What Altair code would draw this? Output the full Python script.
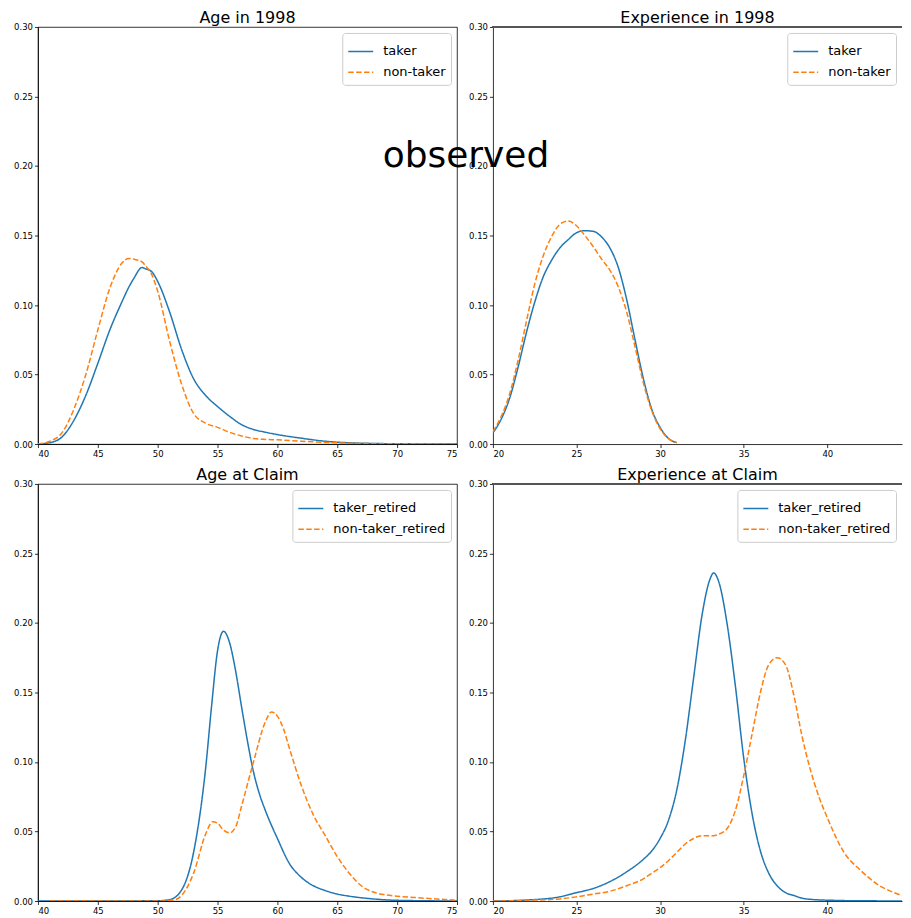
import altair as alt
import pandas as pd

# ---- Age in 1998 ----
age98_x = [40, 41, 42, 43, 44, 45, 46, 47, 47.6, 48, 48.7, 49, 49.5, 50, 51, 52, 53, 54, 55, 56, 57, 58, 59, 60, 62, 64, 66, 70, 75]
age98_taker = [0.0, 0.001, 0.005, 0.017, 0.035, 0.058, 0.082, 0.102, 0.113, 0.119, 0.127, 0.126, 0.124, 0.117, 0.095, 0.068, 0.047, 0.035, 0.027, 0.02, 0.014, 0.0105, 0.0085, 0.0068, 0.0042, 0.002, 0.0009, 0.0002, 0.0]
age98_nontaker = [0.0, 0.002, 0.008, 0.025, 0.05, 0.082, 0.112, 0.130, 0.1335, 0.133, 0.131, 0.128, 0.122, 0.110, 0.074, 0.043, 0.022, 0.015, 0.012, 0.0085, 0.0058, 0.004, 0.0033, 0.003, 0.002, 0.0012, 0.0006, 0.0002, 0.0001]

# ---- Experience in 1998 ----
exp98_x = [20, 20.5, 21, 21.5, 22, 22.5, 23, 23.5, 24, 24.5, 25, 25.5, 26, 26.5, 27, 27.5, 28, 28.5, 29, 29.5, 30, 30.5, 31]
exp98_taker = [0.008, 0.018, 0.033, 0.055, 0.080, 0.102, 0.120, 0.132, 0.141, 0.147, 0.152, 0.1535, 0.153, 0.149, 0.141, 0.127, 0.104, 0.075, 0.047, 0.025, 0.012, 0.004, 0.001]
exp98_nontaker = [0.009, 0.020, 0.036, 0.060, 0.088, 0.115, 0.135, 0.149, 0.158, 0.1605, 0.157, 0.150, 0.142, 0.133, 0.125, 0.113, 0.095, 0.070, 0.044, 0.024, 0.011, 0.004, 0.001]

# ---- Age at Claim ----
ageclaim_taker_x = [40, 45, 50, 51, 52, 53, 54, 54.5, 55, 55.5, 56, 56.5, 57, 57.5, 58, 58.5, 59, 60, 61, 62, 63, 64, 65, 66, 68, 70, 75]
ageclaim_taker = [0.0, 0.0, 0.0002, 0.001, 0.008, 0.035, 0.095, 0.14, 0.18, 0.194, 0.186, 0.166, 0.14, 0.115, 0.093, 0.077, 0.065, 0.045, 0.027, 0.017, 0.011, 0.0075, 0.005, 0.0035, 0.0015, 0.0005, 0.0]
ageclaim_nontaker_x = [41, 45, 50, 51.5, 52, 53, 54, 54.6, 55, 55.5, 56, 56.5, 57, 58, 59, 59.5, 60, 60.5, 61, 62, 63, 64, 65, 66, 67, 68, 69, 70, 72, 75]
ageclaim_nontaker = [0.0, 0.0, 0.0, 0.001, 0.004, 0.02, 0.048, 0.057, 0.056, 0.051, 0.049, 0.053, 0.068, 0.100, 0.129, 0.136, 0.133, 0.124, 0.110, 0.083, 0.062, 0.047, 0.032, 0.020, 0.011, 0.0065, 0.0045, 0.0035, 0.0022, 0.0005]

# ---- Experience at Claim ----
expclaim_x = [20, 22, 24, 25, 26, 27, 28, 29, 29.5, 30, 30.5, 31, 31.5, 32, 32.5, 33, 33.2, 33.5, 34, 34.5, 35, 35.5, 36, 36.5, 37, 37.5, 38, 38.5, 39, 39.5, 40, 41, 42, 43, 44, 45]
expclaim_taker = [0.0, 0.0007, 0.003, 0.006, 0.009, 0.014, 0.021, 0.03, 0.036, 0.045, 0.058, 0.08, 0.115, 0.16, 0.205, 0.232, 0.236, 0.230, 0.200, 0.155, 0.103, 0.063, 0.036, 0.02, 0.011, 0.006, 0.004, 0.002, 0.0012, 0.0008, 0.0006, 0.0003, 0.0002, 0.0001, 0.0, 0.0]
expclaim_nontaker = [0.0, 0.0005, 0.0015, 0.003, 0.005, 0.007, 0.011, 0.016, 0.02, 0.024, 0.029, 0.035, 0.041, 0.045, 0.047, 0.047, 0.047, 0.048, 0.052, 0.065, 0.09, 0.12, 0.15, 0.17, 0.175, 0.17, 0.148, 0.118, 0.094, 0.075, 0.06, 0.035, 0.022, 0.012, 0.006, 0.002]

titles = ["Age in 1998", "Experience in 1998", "Age at Claim", "Experience at Claim"]
series_top = ["taker", "non-taker"]
series_bottom = ["taker_retired", "non-taker_retired"]
colors = ["#1f77b4", "#ff7f0e"]
dashes = [[1, 0], [5.5, 2.4]]
y_ticks = [0.0, 0.05, 0.10, 0.15, 0.20, 0.25, 0.30]


def frame(xs_list, ys_list, names):
    rows = []
    for xs, ys, nm in zip(xs_list, ys_list, names):
        for xv, yv in zip(xs, ys):
            rows.append({"x": xv, "y": yv, "series": nm})
    return pd.DataFrame(rows)


FONT = "DejaVu Sans"


def panel(df, title, names, domain, ticks, width, right=False, extra=None):
    leg = alt.Legend(title=None, orient="top-right", offset=6, symbolType="stroke",
                     symbolSize=625, symbolStrokeWidth=1.5, labelFontSize=13, labelFont=FONT,
                     labelColor="#000", padding=5, rowPadding=-5, cornerRadius=3, labelOffset=9,
                     strokeColor="#cccccc", fillColor="white", labelLimit=300, symbolOffset=0)
    base = alt.Chart(df).mark_line(strokeWidth=1.5, clip=True, interpolate="monotone").encode(
        x=alt.X("x:Q", scale=alt.Scale(domain=domain, nice=False, zero=False),
                axis=alt.Axis(values=ticks, format="d", title=None)),
        y=alt.Y("y:Q", scale=alt.Scale(domain=[0, 0.30], nice=False),
                axis=alt.Axis(values=y_ticks, format=".2f", title=None)),
        color=alt.Color("series:N", scale=alt.Scale(domain=names, range=colors), legend=leg),
        strokeDash=alt.StrokeDash("series:N", scale=alt.Scale(domain=names, range=dashes), legend=leg),
        order=alt.Order("x:Q"),
    )
    layers = [base]
    if right:
        top = alt.Chart(df).mark_rule(color="#555", strokeWidth=0.8).encode(
            x=alt.value(0), x2=alt.value(width), y=alt.value(0))
        layers.append(top)
    if extra is not None:
        layers.append(extra)
    ch = alt.layer(*layers).properties(
        width=width, height=418,
        title=alt.TitleParams(title, fontSize=16, font=FONT, fontWeight="normal", color="#000", offset=-3),
    )
    if right:
        ch = ch.properties(view=alt.ViewBackground(stroke=None))
    return ch


observed = alt.Chart(pd.DataFrame({"t": ["observed"]})).mark_text(
    fontSize=36, font=FONT, align="center", baseline="middle", color="#000"
).encode(text="t:N", x=alt.value(429), y=alt.value(129))

df1 = frame([age98_x, age98_x], [age98_taker, age98_nontaker], series_top)
df2 = frame([exp98_x, exp98_x], [exp98_taker, exp98_nontaker], series_top)
df3 = frame([ageclaim_taker_x, ageclaim_nontaker_x], [ageclaim_taker, ageclaim_nontaker], series_bottom)
df4 = frame([expclaim_x, expclaim_x], [expclaim_taker, expclaim_nontaker], series_bottom)

age_ticks = [40, 45, 50, 55, 60, 65, 70, 75]
exp_ticks = [20, 25, 30, 35, 40]

p1 = panel(df1, titles[0], series_top, [40, 75], age_ticks, 420, extra=observed)
p2 = panel(df2, titles[1], series_top, [20, 44.47], exp_ticks, 410, right=True)
p3 = panel(df3, titles[2], series_bottom, [40, 75], age_ticks, 420)
p4 = panel(df4, titles[3], series_bottom, [20, 44.47], exp_ticks, 410, right=True)

chart = alt.concat(p1, p2, p3, p4, columns=2, spacing={"row": 40, "column": 36}, bounds="flush").resolve_scale(
    color="independent", strokeDash="independent"
).properties(
    padding={"left": 5, "top": 0, "right": 0, "bottom": 0},
    background="white",
).configure_axis(
    labelFont=FONT, labelFontSize=8.5, labelColor="#000", tickColor="#000", tickSize=3.5,
    tickWidth=0.8, domainColor="#000", domainWidth=0.8, labelPadding=2, grid=False,
).configure_view(stroke="#000", strokeWidth=0.8)

chart.save("out.html", embed_options={"renderer": "svg", "actions": False})
